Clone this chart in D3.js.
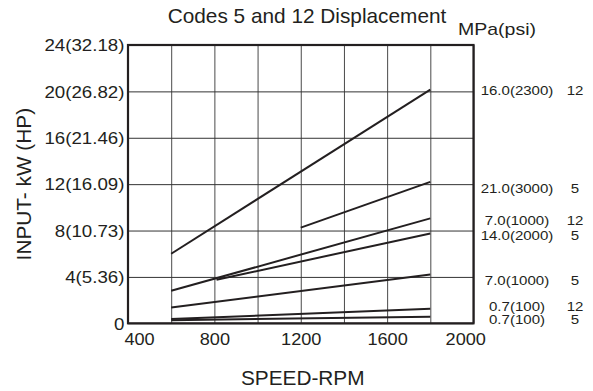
<!DOCTYPE html>
<html>
<head>
<meta charset="utf-8">
<script src="https://cdn.jsdelivr.net/npm/d3@7/dist/d3.min.js"></script>
<style>
  html, body { margin: 0; padding: 0; background: #fff; }
  svg { display: block; }
  text { font-family: "Liberation Sans", Arial, Helvetica, sans-serif; fill: #231f20; }
</style>
</head>
<body>
<svg id="chart" width="593" height="391"></svg>
<script>
// ---- data ----
const xTickValues = [400, 800, 1200, 1600, 2000];
const xGridValues = [400, 600, 800, 1000, 1200, 1400, 1600, 1800, 2000];
const yTickValues = [0, 4, 8, 12, 16, 20, 24];
const yTickLabels = ["0", "4(5.36)", "8(10.73)", "12(16.09)", "16(21.46)", "20(26.82)", "24(32.18)"];
const speedStart = [600, 1200, 600, 810, 600, 600, 600];
const speedEnd   = [1800, 1800, 1800, 1800, 1800, 1800, 1800];
const kwStart    = [6.0, 8.25, 2.8, 3.75, 1.37, 0.37, 0.27];
const kwEnd      = [20.15, 12.2, 9.05, 7.75, 4.2, 1.25, 0.57];
const pressureLabels = ["16.0(2300)", "21.0(3000)", "7.0(1000)", "14.0(2000)", "7.0(1000)", "0.7(100)", "0.7(100)"];
const codeLabels     = ["12", "5", "12", "5", "5", "12", "5"];
const labelKW        = [19.68, 11.2, 8.45, 7.22, 3.3, 1.08, -0.1];

// ---- layout ----
const svg = d3.select("#chart");
const L = 128, R = 473.5, T = 45, B = 323.3;
const x = d3.scaleLinear().domain([400, 2000]).range([L, R]);
const y = d3.scaleLinear().domain([0, 24]).range([B, T]);
const ink = "#231f20";

// grid
svg.append("g")
  .attr("transform", `translate(0,${B})`)
  .call(d3.axisBottom(x).tickValues(xGridValues).tickSize(-(B - T)).tickFormat(""))
  .call(g => g.select(".domain").remove())
  .call(g => g.selectAll("line").attr("stroke", "#4a4a4a").attr("stroke-width", 1));
svg.append("g")
  .attr("transform", `translate(${L},0)`)
  .call(d3.axisLeft(y).tickValues(yTickValues).tickSize(-(R - L)).tickFormat(""))
  .call(g => g.select(".domain").remove())
  .call(g => g.selectAll("line").attr("stroke", "#333").attr("stroke-width", 1));

// y tick labels
const yAxis = svg.append("g")
  .attr("transform", `translate(${L},0)`)
  .call(d3.axisLeft(y).tickValues(yTickValues).tickSize(0).tickPadding(3)
    .tickFormat((d, i) => yTickLabels[i]));
yAxis.select(".domain").remove();
yAxis.selectAll("text")
  .attr("font-size", 16).attr("font-family", "Liberation Sans, Arial, sans-serif")
  .attr("fill", ink)
  .attr("transform", "scale(1.17,1)")
  .attr("dy", "0.36em");

// x tick labels
const xAxis = svg.append("g")
  .attr("transform", `translate(0,${B})`)
  .call(d3.axisBottom(x).tickValues(xTickValues).tickSize(0).tickPadding(10)
    .tickFormat(d3.format("d")));
xAxis.select(".domain").remove();
xAxis.selectAll(".tick text")
  .attr("font-size", 16.5).attr("font-family", "Liberation Sans, Arial, sans-serif")
  .attr("fill", ink)
  .attr("transform", "scale(1.1,1)")
  .attr("x", d => d === 400 ? 10 : (d === 2000 ? -7.5 : 0))
  .attr("dy", "0.72em");

// frame
svg.append("rect")
  .attr("x", L).attr("y", T).attr("width", R - L).attr("height", B - T)
  .attr("fill", "none").attr("stroke", ink).attr("stroke-width", 2.2);

// series lines
const idx = d3.range(speedStart.length);
svg.append("g").selectAll("line").data(idx).join("line")
  .attr("x1", i => x(speedStart[i])).attr("y1", i => y(kwStart[i]))
  .attr("x2", i => x(speedEnd[i])).attr("y2", i => y(kwEnd[i]))
  .attr("stroke", ink).attr("stroke-width", 2);

// right labels
const lab = svg.append("g");
idx.forEach(i => {
  const yy = y(labelKW[i]);
  lab.append("text")
    .attr("transform", `translate(517,${yy}) scale(1.14,1)`)
    .attr("text-anchor", "middle").attr("font-size", 13.2)
    .text(pressureLabels[i]);
  lab.append("text")
    .attr("transform", `translate(575,${yy}) scale(1.14,1)`)
    .attr("text-anchor", "middle").attr("font-size", 13.2)
    .text(codeLabels[i]);
});

// titles
svg.append("text")
  .attr("x", 307).attr("y", 23).attr("text-anchor", "middle")
  .attr("font-size", 20.8).text("Codes 5 and 12 Displacement");
svg.append("text")
  .attr("transform", "translate(458,35) scale(1.22,1)")
  .attr("font-size", 16).text("MPa(psi)");
svg.append("text")
  .attr("x", (L + R) / 2 + 2).attr("y", 385).attr("text-anchor", "middle")
  .attr("font-size", 20.8).text("SPEED-RPM");
svg.append("text")
  .attr("transform", `translate(31,${(T + B) / 2}) rotate(-90)`)
  .attr("text-anchor", "middle").attr("font-size", 20.8).text("INPUT- kW (HP)");
</script>
</body>
</html>
